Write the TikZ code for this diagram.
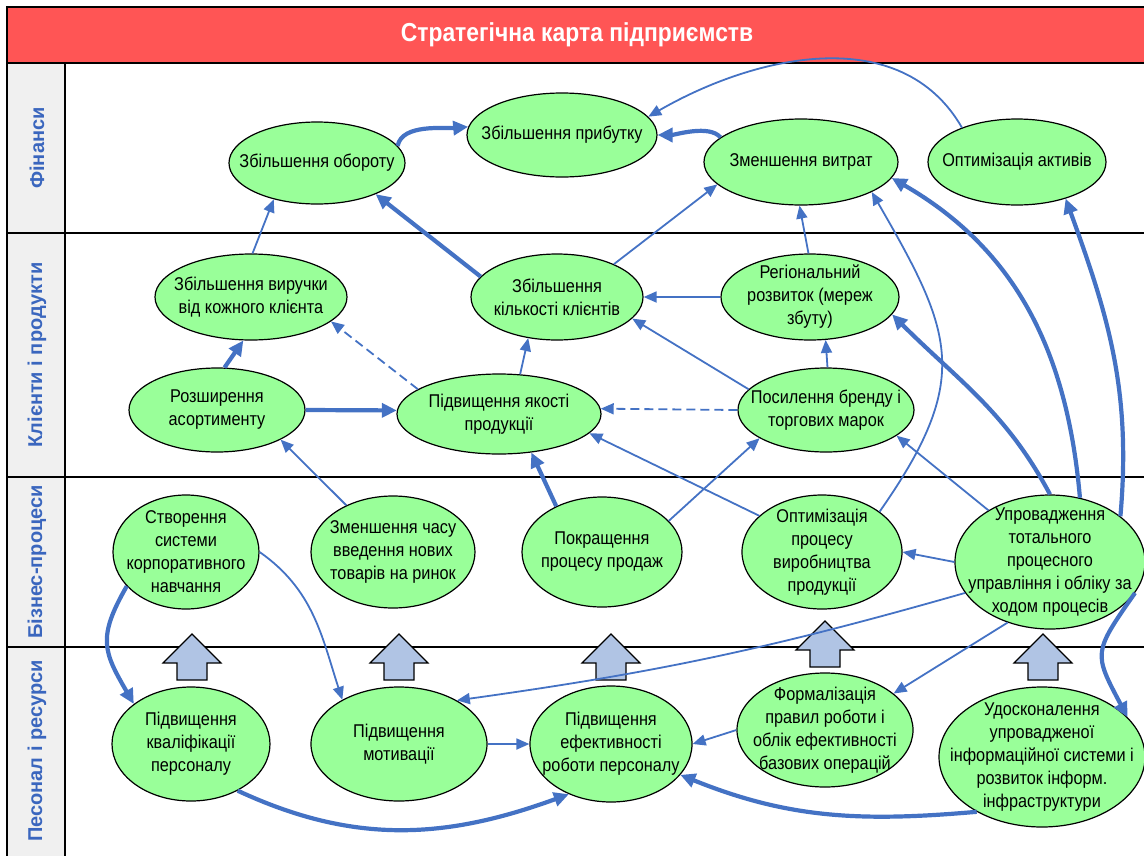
\documentclass[tikz,border=0pt]{standalone}
\usepackage{fontspec}
\setmainfont{Liberation Sans}
\newfontfamily\narrowsans[FakeStretch=0.88]{Liberation Sans}
\usetikzlibrary{shapes.geometric,arrows.meta}
\definecolor{goalgreen}{RGB}{153,255,153}
\definecolor{linkblue}{RGB}{68,114,196}
\definecolor{titlered}{RGB}{255,85,85}
\definecolor{lanegray}{RGB}{240,240,240}
\definecolor{laneblue}{RGB}{58,102,190}
\definecolor{raiseblue}{RGB}{176,196,228}

\begin{document}
\begin{tikzpicture}
[x=1pt, y=-1pt,
 goal/.style={ellipse, draw, line width=1.2pt, fill=goalgreen, inner sep=-60pt, align=center, font=\narrowsans\fontsize{18.5}{23}\selectfont},
 link/.style={-{Triangle[length=13pt, width=11pt]}, draw=linkblue, line width=1.8pt},
 mainlink/.style={link, -{Triangle[length=15pt, width=14pt]}, line width=4.2pt},
 hint/.style={link, dash pattern=on 9pt off 5pt},
 lanelabel/.style={rotate=90, text=laneblue, font=\bfseries\fontsize{20}{20}\selectfont},
 raise/.style={draw, line width=1.2pt, fill=raiseblue}]
\useasboundingbox (0,0) rectangle (1144,855);
\fill [lanegray] (7,63) rectangle (65,860);
\fill [titlered] (7,7) rectangle (1150,63);
\draw [line width=2pt] (7,860) -- (7,7) -- (1150,7);
\foreach \y in {63,233,477,647} \draw [line width=2pt] (7,\y) -- (1150,\y);
\draw [line width=2pt] (65,63) -- (65,860);
\node (title) [text=white, font=\narrowsans\bfseries\fontsize{26}{26}\selectfont] at (577,35) {Стратегічна карта підприємств};
\node (fin) [lanelabel] at (37,148) {Фінанси};
\node (client) [lanelabel] at (37,355) {Клієнти і продукти};
\node (process) [lanelabel] at (37,562) {Бізнес-процеси};
\node (staff) [lanelabel] at (37,751) {Песонал і ресурси};
\foreach \x/\y in {192/634, 399/634, 611/634, 825/621, 1043/634}
  \draw [raise] (\x,\y) -- ++(29,29) -- ++(-14,0) -- ++(0,17) -- ++(-30,0) -- ++(0,-17) -- ++(-14,0) -- cycle;
\node (obig) [goal, minimum width=176pt, minimum height=82pt] at (317,163) {Збільшення обороту};
\node (prib) [goal, minimum width=190pt, minimum height=84pt] at (562,135) {Збільшення прибутку};
\node (vytr) [goal, minimum width=194pt, minimum height=86pt] at (801,162) {Зменшення витрат};
\node (aktyv) [goal, minimum width=178pt, minimum height=86pt] at (1017,162) {Оптимізація активів};
\node (vyruch) [goal, minimum width=192pt, minimum height=86pt] at (251,297) {Збільшення виручки\\від кожного клієнта};
\node (kilk) [goal, minimum width=172pt, minimum height=86pt] at (557,297) {Збільшення\\кількості клієнтів};
\node (region) [goal, minimum width=178pt, minimum height=86pt] at (810,297) {Регіональний\\розвиток (мереж\\збуту)};
\node (rozsh) [goal, minimum width=176pt, minimum height=84pt] at (217,410) {Розширення\\асортименту};
\node (yakist) [goal, minimum width=204pt, minimum height=80pt] at (499,414) {Підвищення якості\\продукції};
\node (brand) [goal, minimum width=176pt, minimum height=84pt] at (826,410) {Посилення бренду і\\торгових марок};
\node (korp) [goal, minimum width=146pt, minimum height=114pt] at (186,552) {Створення\\системи\\корпоративного\\навчання};
\node (chas) [goal, minimum width=164pt, minimum height=112pt] at (393,552) {Зменшення часу\\введення нових\\товарів на ринок};
\node (prodazh) [goal, minimum width=160pt, minimum height=110pt] at (602,552) {Покращення\\процесу продаж};
\node (vyrob) [goal, minimum width=160pt, minimum height=114pt] at (822,552) {Оптимізація\\процесу\\виробництва\\продукції};
\node (upr) [goal, minimum width=190pt, minimum height=134pt] at (1050,562) {Упровадження\\тотального\\процесного\\управління і обліку за\\ходом процесів};
\node (kval) [goal, minimum width=158pt, minimum height=114pt] at (191,744) {Підвищення\\кваліфікації\\персоналу};
\node (motyv) [goal, minimum width=176pt, minimum height=114pt] at (399,744) {Підвищення\\мотивації};
\node (efekt) [goal, minimum width=162pt, minimum height=116pt] at (611,744) {Підвищення\\ефективності\\роботи персоналу};
\node (formal) [goal, minimum width=176pt, minimum height=114pt] at (825,730) {Формалізація\\правил роботи і\\облік ефективності\\базових операцій};
\node (udosk) [goal, minimum width=206pt, minimum height=140pt] at (1042,757) {Удосконалення\\упровадженої\\інформаційної системи і\\розвиток інформ.\\інфраструктури};
\path (obig.12) edge [mainlink, out=80, in=185, looseness=0.8] (prib.175);
\path (vytr.163) edge [mainlink, out=130, in=0, looseness=0.7] (prib.0);
\path (aktyv.148) edge [link, out=120, in=30] (prib.12);
\path (vyruch.88) edge [link] (obig.220);
\path (kilk.165) edge [mainlink] (obig.-28);
\path (kilk.30) edge [link] (vytr.195);
\path (region.92) edge [link] (vytr.268);
\path (vyrob.35) edge [link, out=55, in=-60, looseness=1.3] (vytr.-23);
\path (upr.65) edge [mainlink, out=95, in=-30] (vytr.-10);
\path (upr.33) edge [mainlink, out=85, in=-70] (aktyv.-37);
\path (upr.90) edge [mainlink, out=118, in=-45] (region.-12);
\path (upr.140) edge [link] (brand.-20);
\path (rozsh.80) edge [mainlink] (vyruch.260);
\path (rozsh.east) edge [mainlink] (yakist.178);
\path (yakist.163) edge [hint] (vyruch.-17);
\path (yakist.62) edge [link] (kilk.235);
\path (region.west) edge [link] (kilk.east);
\path (brand.165) edge [link] (kilk.-16);
\path (brand.88) edge [link] (region.-70);
\path (brand.west) edge [hint] (yakist.3);
\path (chas.135) edge [link] (rozsh.-25);
\path (prodazh.135) edge [mainlink] (yakist.-50);
\path (prodazh.25) edge [link] (brand.203);
\path (vyrob.150) edge [link] (yakist.-12);
\path (upr.west) edge [link] (vyrob.east);
\path (korp.210) edge [mainlink, out=240, in=120, looseness=1.3] (kval.145);
\path (korp.east) edge [link, out=-35, in=108] (motyv.142);
\path (upr.200) edge [link, bend left=4] (motyv.37);
\path (upr.235) edge [link] (formal.28);
\path (upr.-20) edge [mainlink, out=235, in=118, looseness=1.5] (udosk.25);
\path (motyv.east) edge [link] (efekt.west);
\path (kval.-45) edge [mainlink, out=-25, in=200] (efekt.230);
\path (formal.west) edge [link] (efekt.east);
\path (udosk.220) edge [mainlink, out=185, in=-22] (efekt.-24);
\end{tikzpicture}
\end{document}
